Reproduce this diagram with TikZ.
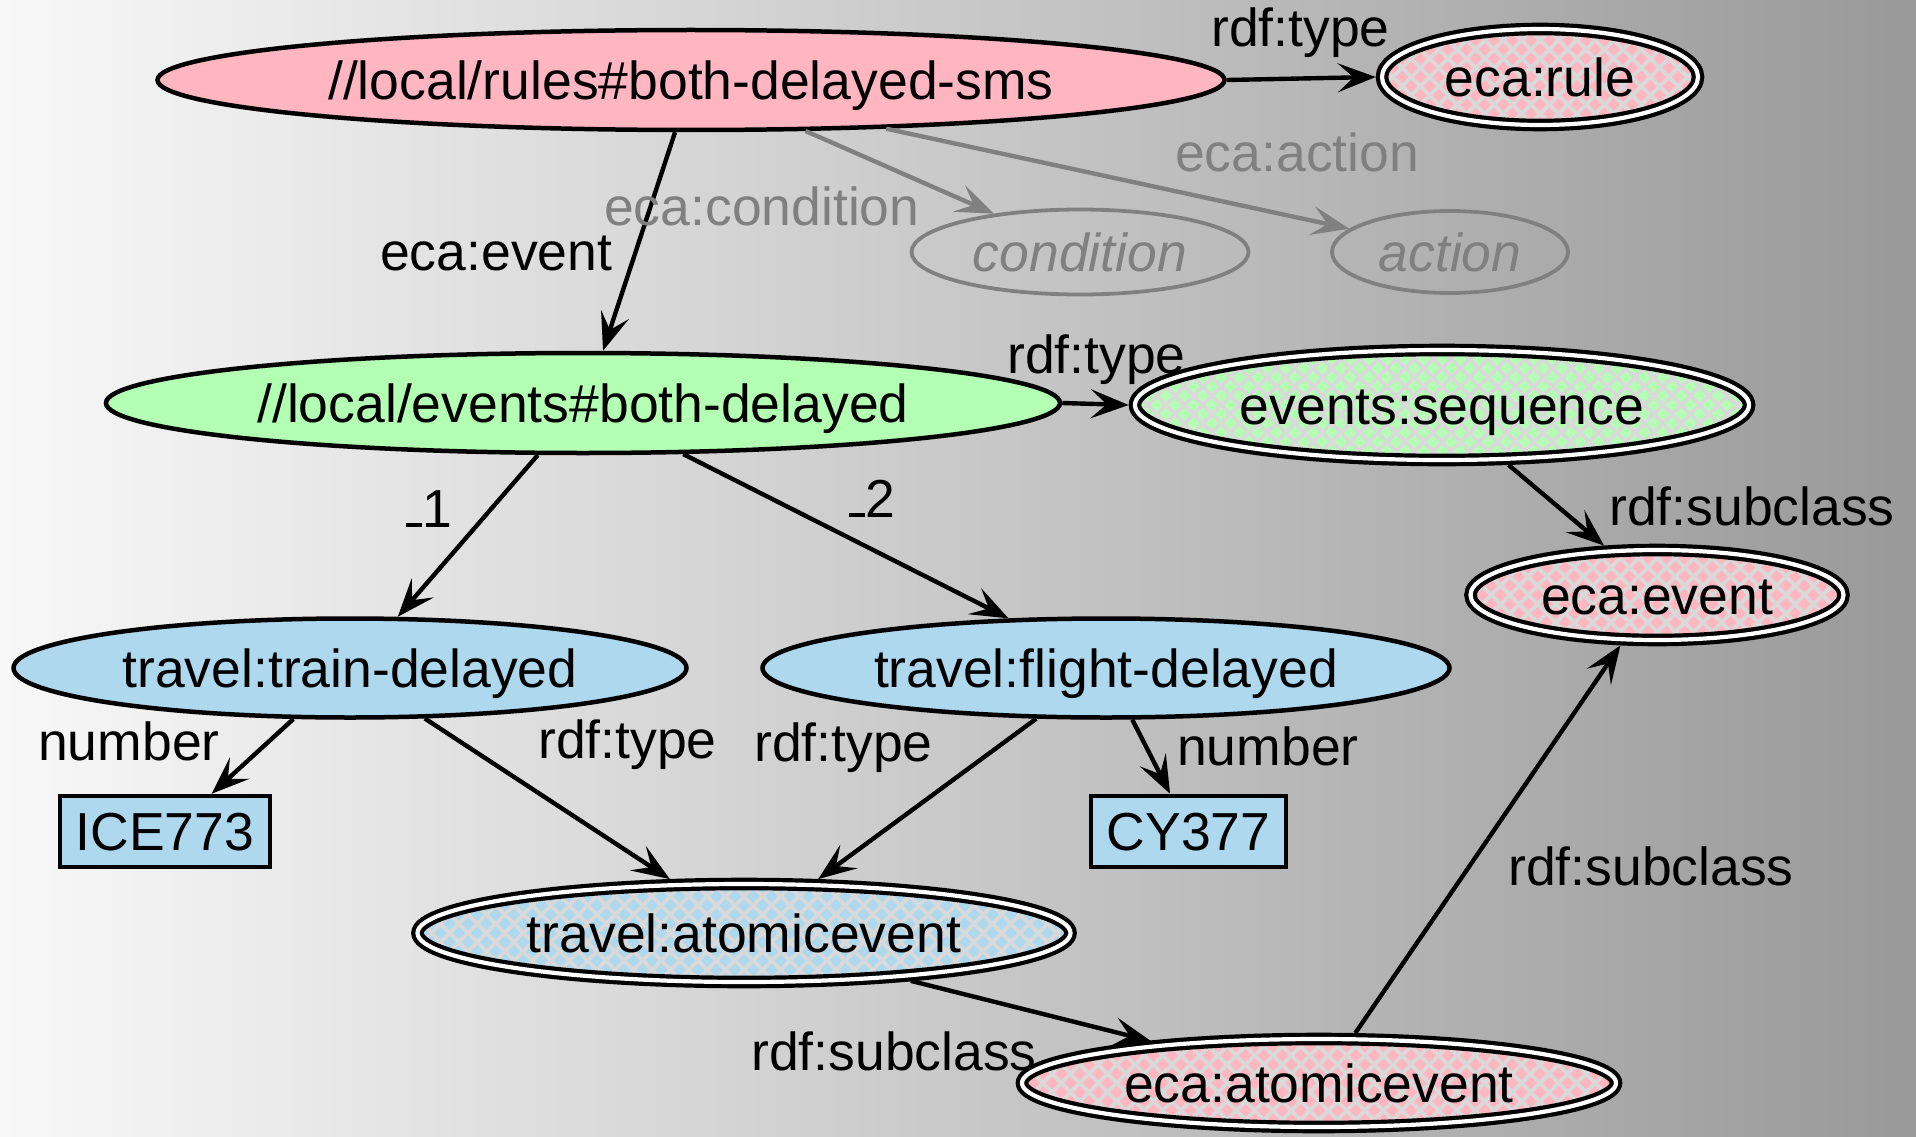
\documentclass[tikz,border=0pt]{standalone}
\usepackage{fontspec}
\setmainfont{Liberation Sans}
\usetikzlibrary{arrows.meta,shapes.geometric,calc}
\definecolor{pinkc}{RGB}{255,182,193}
\definecolor{greenc}{RGB}{179,255,179}
\definecolor{bluec}{RGB}{173,216,238}
\definecolor{hatchc}{RGB}{217,217,217}
\definecolor{greyc}{RGB}{128,128,128}
\definecolor{bgl}{RGB}{248,248,248}
\definecolor{bgr}{RGB}{153,153,153}
\pgfdeclarelayer{back}
\pgfdeclarelayer{mid}
\pgfsetlayers{back,mid,main}
\newcommand\hatchfill[4]{%
  \begin{pgfonlayer}{mid}
  \begin{scope}
    \clip (#1.center) ellipse [x radius=#3, y radius=#4];
    \fill[#2] (#1.center) ellipse [x radius=#3, y radius=#4];
    \foreach \k in {-26,...,26}{
      \draw[hatchc, line width=3.8pt] ($(#1.center)+(\k*18.4-150,-150)$) -- ++(300,300);
      \draw[hatchc, line width=3.8pt] ($(#1.center)+(\k*18.4-150,150)$) -- ++(300,-300);
    }
  \end{scope}
  \end{pgfonlayer}}
\begin{document}
\begin{tikzpicture}[x=1pt,y=-1pt,
  every node/.style={font=\fontsize{53.5}{60}\selectfont, inner sep=0pt, text height=38.3pt, text depth=0pt},
  ell/.style={ellipse, draw=black, line width=4.5pt, outer sep=2.25pt},
  dbl/.style={ellipse, draw=black, line width=4.2pt, double=white, double distance=4.2pt, outer sep=6.3pt},
  box/.style={rectangle, draw=black, line width=4.5pt, fill=bluec, outer sep=2.25pt},
  ghost/.style={ellipse, draw=greyc, line width=3.8pt, text=greyc, font=\fontsize{53.5}{60}\selectfont\itshape, outer sep=1.9pt},
  lab/.style={anchor=base west},
  glab/.style={anchor=base west, text=greyc},
  conn/.style={draw=black, line width=4.4pt, -{Stealth[length=38pt,width=29pt,inset=16pt]}},
  gconn/.style={conn, draw=greyc}
]
\useasboundingbox (0,0) rectangle (1916,1137);
\begin{pgfonlayer}{back}
\shade[left color=bgl, right color=bgr] (0,0) rectangle (1916,1137);
\end{pgfonlayer}

\node[ell, fill=pinkc, minimum width=1067pt, minimum height=100pt] (rule) at (691,80) {//local/rules\#both-delayed-sms};
\node[dbl, minimum width=316pt, minimum height=96pt] (ecarule) at (1540,77) {eca:rule};
\node[ghost, minimum width=337pt, minimum height=85pt] (cond) at (1080,252) {condition};
\node[ghost, minimum width=236pt, minimum height=82pt] (action) at (1450,252) {action};
\node[ell, fill=greenc, minimum width=954pt, minimum height=100pt] (events) at (583,403) {//local/events\#both-delayed};
\node[dbl, minimum width=614pt, minimum height=110pt] (seq) at (1442,405) {events:sequence};
\node[dbl, minimum width=373pt, minimum height=90pt] (ecaevent) at (1657,595) {eca:event};
\node[ell, fill=bluec, minimum width=673pt, minimum height=99pt] (train) at (350,668) {travel:train-delayed};
\node[ell, fill=bluec, minimum width=687pt, minimum height=99pt] (flight) at (1106,668) {travel:flight-delayed};
\node[box, minimum width=210pt, minimum height=71pt] (ice) at (165,831.5) {ICE773};
\node[box, minimum width=195pt, minimum height=71pt] (cy) at (1188.5,831.5) {CY377};
\node[dbl, minimum width=653pt, minimum height=98pt] (tatomic) at (744,933) {travel:atomicevent};
\node[dbl, minimum width=594pt, minimum height=88pt] (eatomic) at (1319,1083) {eca:atomicevent};

\hatchfill{ecarule}{pinkc}{158}{48}
\hatchfill{seq}{greenc}{307}{55}
\hatchfill{ecaevent}{pinkc}{186.5}{45}
\hatchfill{tatomic}{bluec}{326.5}{49}
\hatchfill{eatomic}{pinkc}{297}{44}

\draw[conn] (rule.east) -- (ecarule.west);
\draw[conn] (rule.253.1) -- (events.69.1);
\draw[gconn] (rule.336.5) -- (cond.156.8);
\draw[gconn] (rule.346.8) -- (action.167.2);
\draw[conn] (events.east) -- (seq.west);
\draw[conn] (events.229.5) -- (train.47.7);
\draw[conn] (events.333.2) -- (flight.153.2);
\draw[conn] (seq.318.1) -- (ecaevent.137.9);
\draw[conn] (train.222) -- (ice.39.6);
\draw[conn] (train.326.3) -- (tatomic.144.9);
\draw[conn] (flight.216.7) -- (tatomic.36.2);
\draw[conn] (flight.297.4) -- (cy.116.6);
\draw[conn] (tatomic.344.9) -- (eatomic.166.3);
\draw[conn] (eatomic.54.8) -- (ecaevent.234.7);

\node[lab] (l1) at (1211,47) {rdf:type};
\node[glab] (l2) at (1175,171) {eca:action};
\node[glab] (l3) at (604,225) {eca:condition};
\node[lab] (l4) at (380,270) {eca:event};
\node[lab] (l5) at (1007,373) {rdf:type};
\node[lab] (l6) at (406,527) {\rule{16pt}{4.5pt}1};
\node[lab] (l7) at (849,517) {\rule{16pt}{4.5pt}2};
\node[lab] (l8) at (1609,525) {rdf:subclass};
\node[lab] (l9) at (38,760) {number};
\node[lab] (l10) at (538,758) {rdf:type};
\node[lab] (l11) at (754,761) {rdf:type};
\node[lab] (l12) at (1177,765) {number};
\node[lab] (l13) at (1508,885) {rdf:subclass};
\node[lab] (l14) at (751,1070) {rdf:subclass};
\end{tikzpicture}
\end{document}
